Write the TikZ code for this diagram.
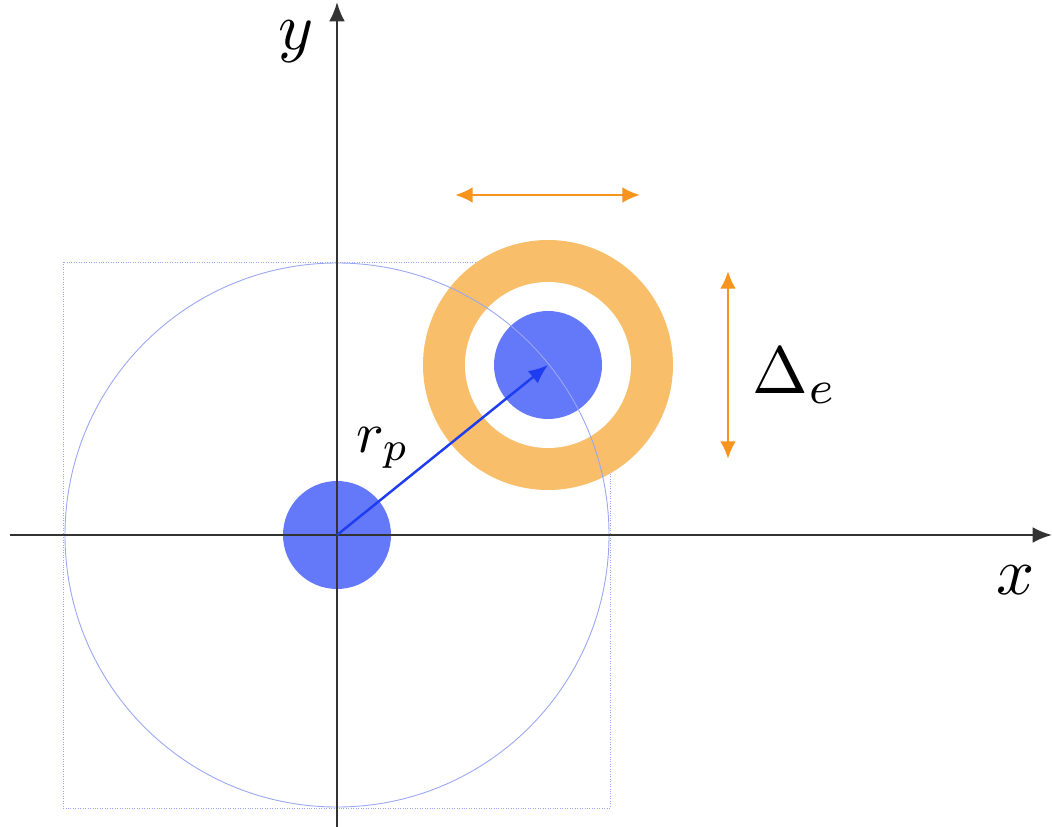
\documentclass[tikz,border=0pt]{standalone}
\usetikzlibrary{arrows.meta}
\definecolor{diskblue}{HTML}{6479F9}
\definecolor{ringorange}{HTML}{F9BE6A}
\definecolor{arroworange}{HTML}{F7941D}
\definecolor{arrowblue}{HTML}{1E3CF0}
\definecolor{thinblue}{HTML}{9AA6F2}
\begin{document}
\begin{tikzpicture}[x=0.02cm,y=-0.02cm,
  axis/.style={line width=1.3pt,draw=black!80,-{Latex[length=11pt,width=9pt]}},
  oarrow/.style={line width=1.6pt,draw=arroworange,{Latex[length=10pt,width=9pt]}-{Latex[length=10pt,width=9pt]}},
  guide/.style={draw=thinblue,line width=0.4pt,densely dotted},
  lbl/.style={scale=3.8,inner sep=0pt}]
\useasboundingbox (0,0) rectangle (1052,827);
\coordinate (O) at (337,535);
\coordinate (P) at (548,365);
% guide square
\draw[guide] (63,262) rectangle (610,808);
% annulus
\fill[ringorange] (P) circle[radius=125];
\fill[white] (P) circle[radius=83];
% disks
\fill[diskblue] (O) circle[radius=54];
\fill[diskblue] (P) circle[radius=54];
% guide circle
\draw[thinblue,line width=0.5pt] (O) circle[radius=272];
% axes
\coordinate (xs) at (10,535);
\coordinate (xe) at (1052,535);
\coordinate (ys) at (337,827);
\coordinate (ye) at (337,2);
\draw[axis] (xs) -- (xe);
\draw[axis] (ys) -- (ye);
% r_p arrow
\draw[arrowblue,line width=1.4pt,-{Latex[length=11pt,width=9pt]}] (O) -- (P);
% orange arrows
\coordinate (h1) at (455,195);
\coordinate (h2) at (640,195);
\coordinate (v1) at (728,271);
\coordinate (v2) at (728,459);
\draw[oarrow] (h1) -- (h2);
\draw[oarrow] (v1) -- (v2);
% labels
\node[lbl] (ylab) at (296,42) {$y$};
\node[lbl] (xlab) at (1016,580) {$x$};
\node[scale=3.3,inner sep=0pt] (rlab) at (383,448) {$r_p$};
\node[lbl] (dlab) at (795,376) {$\Delta_e$};
\end{tikzpicture}
\end{document}
